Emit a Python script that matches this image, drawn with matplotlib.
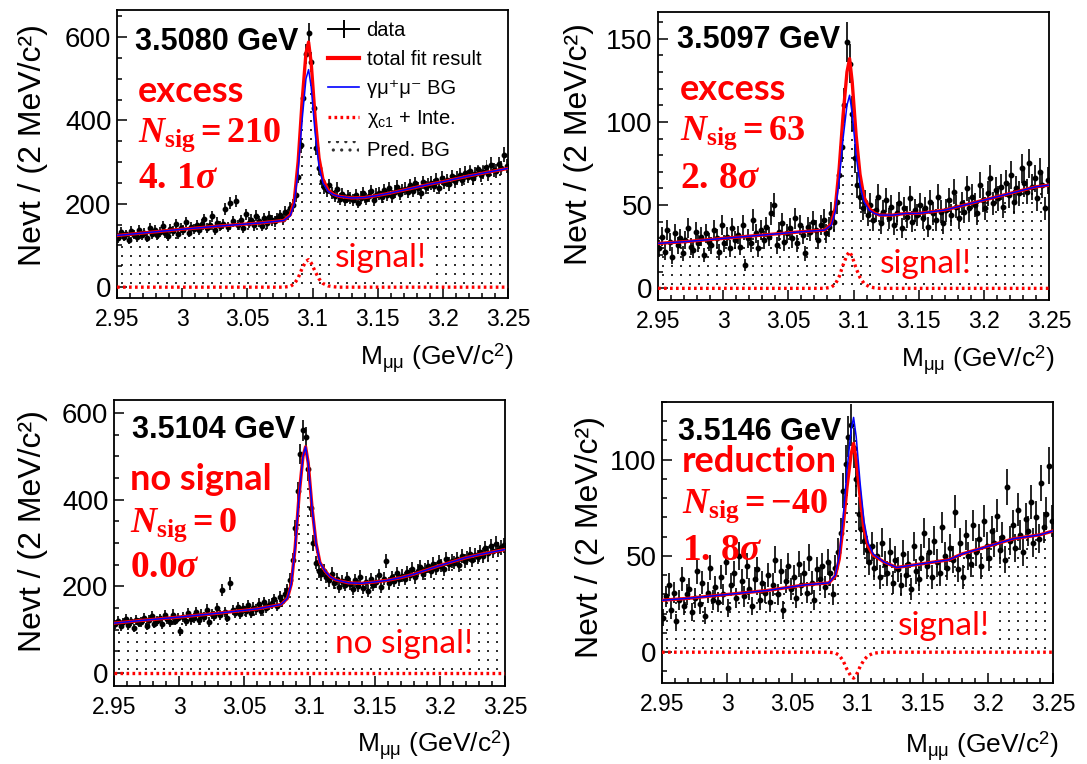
import numpy as np
import matplotlib
matplotlib.use('Agg')
import matplotlib.pyplot as plt
from matplotlib.lines import Line2D
from matplotlib.patches import Patch
from matplotlib.ticker import MultipleLocator, FixedLocator, FixedFormatter

plt.rcParams['font.family'] = ['Liberation Sans', 'DejaVu Sans']
plt.rcParams['mathtext.fontset'] = 'custom'
plt.rcParams['mathtext.rm'] = 'Liberation Sans'
plt.rcParams['mathtext.it'] = 'Liberation Serif:italic:bold'
plt.rcParams['mathtext.bf'] = 'Liberation Serif:bold'
plt.rcParams['hatch.linewidth'] = 1.1

# ---------------- data ----------------
mass_bins = np.round(np.arange(2.951, 3.2495, 0.002), 3)   # 150 bins of 2 MeV

counts_35080 = [
    118, 132, 121, 127, 113, 135, 126, 120, 138, 124,
    131, 119, 142, 128, 137, 125, 133, 146, 129, 122,
    140, 134, 151, 128, 143, 137, 156, 131, 145, 139,
    148, 136, 152, 163, 141, 149, 170, 138, 155, 146,
    152, 188, 145, 201, 158, 207, 149, 160, 143, 175,
    155, 162, 148, 171, 158, 146, 165, 153, 169, 160,
    158, 166, 172, 163, 181, 175, 190, 198, 220, 265,
    340, 455, 560, 610, 540, 430, 335, 285, 255, 240,
    232, 245, 226, 219, 236, 212, 224, 208, 218, 214,
    209, 221, 203, 215, 226, 211, 219, 230, 208, 222,
    225, 216, 232, 221, 238, 219, 229, 241, 224, 233,
    236, 228, 244, 231, 249, 237, 226, 252, 240, 246,
    250, 243, 258, 239, 262, 251, 256, 247, 266, 254,
    262, 270, 258, 274, 265, 279, 261, 272, 283, 268,
    277, 288, 271, 294, 282, 278, 296, 286, 318, 291]

counts_35097 = [
    24, 31, 22, 35, 28, 19, 33, 26, 30, 21,
    29, 36, 25, 23, 34, 27, 31, 20, 33, 28,
    26, 35, 30, 22, 38, 27, 31, 24, 36, 29,
    32, 25, 38, 14, 30, 27, 41, 33, 24, 35,
    29, 37, 31, 45, 50, 26, 34, 39, 28, 33,
    36, 30, 42, 27, 38, 32, 21, 37, 34, 40,
    35, 29, 38, 41, 33, 37, 45, 40, 52, 68,
    85, 110, 148, 135, 105, 78, 62, 55, 48, 52,
    44, 50, 41, 47, 55, 39, 46, 53, 42, 49,
    38, 45, 51, 36, 48, 43, 54, 40, 47, 44,
    50, 42, 48, 37, 52, 45, 41, 55, 46, 39,
    47, 53, 44, 58, 49, 42, 51, 46, 60, 48,
    55, 50, 45, 62, 53, 48, 57, 66, 51, 59,
    54, 61, 49, 63, 56, 68, 52, 60, 57, 72,
    63, 58, 75, 61, 66, 54, 70, 62, 48, 65]

counts_35104 = [
    112, 121, 108, 117, 125, 110, 119, 104, 122, 116,
    118, 127, 109, 123, 131, 114, 120, 126, 112, 133,
    124, 117, 135, 121, 128, 96, 130, 119, 138, 125,
    127, 141, 122, 135, 129, 146, 118, 137, 132, 150,
    133, 191, 140, 128, 207, 145, 138, 152, 136, 149,
    142, 156, 139, 151, 147, 160, 144, 163, 150, 158,
    161, 170, 155, 176, 166, 182, 192, 215, 260, 335,
    420, 505, 560, 545, 470, 380, 300, 255, 235, 228,
    236, 222, 214, 229, 208, 217, 198, 212, 203, 219,
    206, 195, 214, 201, 222, 197, 209, 190, 216, 204,
    211, 226, 199, 218, 258, 207, 221, 213, 230, 216,
    224, 218, 232, 227, 240, 221, 236, 244, 229, 238,
    246, 235, 252, 241, 257, 248, 239, 262, 251, 258,
    255, 264, 249, 270, 259, 266, 275, 261, 272, 268,
    279, 271, 288, 276, 292, 281, 298, 285, 290, 295]

counts_35146 = [
    18, 29, 35, 22, 31, 16, 27, 38, 24, 30,
    33, 21, 28, 42, 25, 36, 19, 31, 44, 27,
    34, 26, 39, 30, 47, 23, 35, 41, 28, 50,
    37, 29, 45, 33, 24, 38, 43, 27, 36, 31,
    40, 26, 35, 48, 30, 42, 22, 37, 45, 33,
    39, 28, 46, 35, 41, 31, 49, 36, 27, 43,
    38, 45, 34, 47, 41, 30, 44, 52, 62, 84,
    98, 112, 118, 106, 90, 72, 64, 58, 53, 47,
    55, 44, 50, 39, 57, 46, 41, 52, 36, 48,
    43, 35, 51, 40, 46, 33, 55, 42, 38, 49,
    62, 45, 52, 39, 58, 47, 41, 65, 50, 44,
    54, 48, 73, 43, 57, 39, 61, 50, 46, 66,
    52, 59, 45, 68, 55, 49, 63, 57, 71, 53,
    60, 48, 86, 58, 66, 54, 74, 61, 52, 69,
    63, 78, 57, 70, 59, 88, 65, 72, 97, 68]

# fit curves sampled at these masses
knot_mass = [2.95, 2.97, 3.00, 3.03, 3.06, 3.078, 3.083, 3.086, 3.089, 3.092,
             3.095, 3.097, 3.099, 3.102, 3.105, 3.108, 3.112, 3.116, 3.12, 3.13,
             3.14, 3.15, 3.16, 3.17, 3.18, 3.19, 3.20, 3.21, 3.22, 3.23, 3.24, 3.25]

bg_35080 = [124, 130, 139, 147, 154, 160, 172, 200, 280, 400, 500, 522, 480, 370, 290, 250,
            230, 222, 218, 214, 215, 220, 226, 233, 240, 247, 253, 260, 267, 273, 279, 285]
sig_35080 = [0, 0, 0, 0, 0, 0, 2, 8, 22, 45, 62, 66, 58, 38, 20, 9,
             3, 1, 0, 0, 0, 0, 0, 0, 0, 0, 0, 0, 0, 0, 0, 0]

bg_35097 = [27, 28, 30, 32, 34, 35, 38, 46, 65, 90, 110, 116, 105, 80, 62, 52,
            47, 45, 44, 44, 45, 45, 46, 47, 49, 51, 53, 55, 57, 59, 61, 62]
sig_35097 = [0, 0, 0, 0, 0, 0, 0.7, 2.5, 7, 14, 20, 22, 19, 12, 6.5, 3,
             1, 0.3, 0, 0, 0, 0, 0, 0, 0, 0, 0, 0, 0, 0, 0, 0]

bg_35104 = [115, 121, 129, 138, 148, 158, 172, 205, 290, 410, 500, 522, 485, 380, 300, 255,
            235, 222, 215, 208, 207, 210, 214, 220, 228, 238, 248, 257, 266, 273, 279, 285]
sig_35104 = [0] * 32

bg_35146 = [27, 28, 30, 32, 35, 36, 40, 50, 70, 95, 115, 122, 112, 88, 68, 57,
            51, 49, 47, 44, 45, 46, 47, 48, 51, 53, 55, 57, 59, 60, 61, 63]
sig_35146 = [0, 0, 0, 0, 0, 0, -0.4, -1.6, -4.5, -9, -12.5, -13.5, -12, -7.5, -4, -1.8,
             -0.6, -0.2, 0, 0, 0, 0, 0, 0, 0, 0, 0, 0, 0, 0, 0, 0]

energy_labels = ['3.5080 GeV', '3.5097 GeV', '3.5104 GeV', '3.5146 GeV']
status_labels = ['excess', 'excess', 'no signal', 'reduction']
nsig_values = ['210', '63', '0', '{-}40']
significance_labels = [r'$\mathbf{4.\,1}\sigma$', r'$\mathbf{2.\,8}\sigma$',
                       r'$\mathbf{0.0}\sigma$', r'$\mathbf{1.\,8}\sigma$']
remark_labels = ['signal!', 'signal!', 'no signal!', 'signal!']

x_ticks = [2.95, 3.0, 3.05, 3.1, 3.15, 3.2, 3.25]
x_tick_labels = ['2.95', '3', '3.05', '3.1', '3.15', '3.2', '3.25']

# ---------------- layout ----------------
W, H = 1087, 764
fig = plt.figure(figsize=(W / 100, H / 100), dpi=100)

panels = [
    dict(counts=counts_35080, bg=bg_35080, sig=sig_35080, rect=(117, 10, 391, 288),
         ylim=(-26, 665), yticks=[0, 200, 400, 600], ymin=50,
         txt=dict(e=(0.046, 0.861), s=(0.054, 0.681), n=(0.054, 0.542), g=(0.054, 0.382),
                  r=(0.558, 0.108)), ylab=(-0.215, 0.53), xlab=-0.208),
    dict(counts=counts_35097, bg=bg_35097, sig=sig_35097, rect=(658, 12, 391, 288),
         ylim=(-7, 166), yticks=[0, 50, 100, 150], ymin=10,
         txt=dict(e=(0.049, 0.875), s=(0.056, 0.694), n=(0.056, 0.556), g=(0.056, 0.389),
                  r=(0.568, 0.094)), ylab=(-0.202, 0.54), xlab=-0.208),
    dict(counts=counts_35104, bg=bg_35104, sig=sig_35104, rect=(114, 400, 391, 286),
         ylim=(-30, 630), yticks=[0, 200, 400, 600], ymin=50,
         txt=dict(e=(0.046, 0.867), s=(0.041, 0.685), n=(0.041, 0.538), g=(0.041, 0.381),
                  r=(0.565, 0.115)), ylab=(-0.207, 0.54), xlab=-0.206),
    dict(counts=counts_35146, bg=bg_35146, sig=sig_35146, rect=(662, 402, 391, 281),
         ylim=(-16, 130), yticks=[0, 50, 100], ymin=10,
         txt=dict(e=(0.041, 0.865), s=(0.051, 0.75), n=(0.051, 0.605), g=(0.051, 0.438),
                  r=(0.604, 0.171)), ylab=(-0.184, 0.52), xlab=-0.224),
]

RED = '#ff0000'
BLUE = '#0000ff'
DOT_PX = 9.0   # spacing of the dotted fill texture, pixels

for i, p in enumerate(panels):
    x0, y0, w, h = p['rect']
    ax = fig.add_axes([x0 / W, 1 - (y0 + h) / H, w / W, h / H])
    counts = np.array(p['counts'], dtype=float)
    bg = np.array(p['bg'], dtype=float)
    sig = np.array(p['sig'], dtype=float)
    km = np.array(knot_mass)

    ax.set_xlim(2.95, 3.25)
    ax.set_ylim(*p['ylim'])

    # predicted background (dotted fill): outline region + square grid of dots clipped to it
    poly = ax.fill_between(km, 0, bg, facecolor='none', edgecolor='none', linewidth=0, zorder=1)
    dx = 0.3 * DOT_PX / w
    dy = (p['ylim'][1] - p['ylim'][0]) * DOT_PX / h
    gx, gy = np.meshgrid(np.arange(2.95 + dx * 0.6, 3.25, dx),
                         np.arange(dy * 0.5, bg.max() + dy, dy))
    dots = ax.scatter(gx.ravel(), gy.ravel(), s=2.4, marker='s', color='#333333',
                      linewidths=0, zorder=1)
    dots.set_clip_path(poly.get_paths()[0], ax.transData)

    # data
    ax.errorbar(mass_bins, counts, yerr=np.sqrt(counts), xerr=0.001, fmt='o', ms=3.2,
                color='black', ecolor='black', elinewidth=1.2, capsize=0, zorder=3)

    # fit curves
    ax.plot(km, bg + sig, color=RED, lw=2.4, zorder=4)
    ax.plot(km, bg, color=BLUE, lw=1.1, zorder=5)
    ax.plot(km, sig, color=RED, lw=2.4, ls=(0, (0.8, 1.0)), zorder=4)

    ax.xaxis.set_major_locator(FixedLocator(x_ticks))
    ax.xaxis.set_major_formatter(FixedFormatter(x_tick_labels))
    ax.xaxis.set_minor_locator(MultipleLocator(0.01))
    ax.yaxis.set_major_locator(FixedLocator(p['yticks']))
    ax.yaxis.set_minor_locator(MultipleLocator(p['ymin']))
    ax.tick_params(axis='both', which='both', direction='in', top=False, right=False,
                   width=1.1)
    ax.tick_params(axis='both', which='major', length=7)
    ax.tick_params(axis='both', which='minor', length=3.5)
    ax.tick_params(axis='y', which='major', labelsize=20, pad=4)
    ax.tick_params(axis='x', which='major', labelsize=16.5, pad=7)
    for s in ax.spines.values():
        s.set_linewidth(1.3)

    ax.set_ylabel('Nevt / (2 MeV/c²)', fontsize=23)
    ax.yaxis.label.set_va('center')
    ax.yaxis.set_label_coords(*p['ylab'])
    ax.set_xlabel(r'M$_{\mathrm{\mu\mu}}$ (GeV/c$^{\mathrm{2}}$)', fontsize=19, ha='right')
    ax.xaxis.label.set_va('center')
    ax.xaxis.set_label_coords(1.015, p['xlab'])

    t = p['txt']
    ax.text(*t['e'], energy_labels[i], transform=ax.transAxes, fontsize=22,
            fontweight='bold', va='baseline', ha='left', zorder=10)
    ax.text(*t['s'], status_labels[i], transform=ax.transAxes, fontsize=26,
            family='Lato', fontweight='bold', color=RED, va='baseline', ha='left', zorder=10)
    nv = nsig_values[i]
    ax.text(*t['n'], r'$N_{\mathbf{sig}}\mathbf{=' + nv + '}$', transform=ax.transAxes,
            fontsize=26, color=RED, va='baseline', ha='left', zorder=10)
    ax.text(*t['g'], significance_labels[i], transform=ax.transAxes, fontsize=27,
            color=RED, va='baseline', ha='left', zorder=10)
    ax.text(*t['r'], remark_labels[i], transform=ax.transAxes, fontsize=24,
            family='Lato', color=RED, va='baseline', ha='left', zorder=10,
            bbox=dict(facecolor='white', edgecolor='none', pad=3))

    if i == 0:
        handles = [
            Line2D([], [], color='black', lw=1.4, marker='|', ms=13, mew=1.4),
            Line2D([], [], color=RED, lw=3),
            Line2D([], [], color=BLUE, lw=1.2),
            Line2D([], [], color=RED, lw=2.4, ls=(0, (0.8, 1.0))),
            Patch(facecolor='white', edgecolor='#333333', hatch='..', lw=0),
        ]
        labels = ['data', 'total fit result', 'γμ⁺μ⁻ BG',
                  r'$\mathrm{\chi}_{\mathrm{c1}}$ + Inte.', 'Pred. BG']
        leg = ax.legend(handles, labels, loc='upper left', bbox_to_anchor=(0.53, 0.975),
                        frameon=True, fancybox=False, framealpha=1, edgecolor='white',
                        fontsize=14.5, handlelength=1.55, handletextpad=0.35,
                        labelspacing=0.5, borderpad=0.2, borderaxespad=0)
        leg.set_zorder(8)

fig.savefig('out.png', dpi=100)
